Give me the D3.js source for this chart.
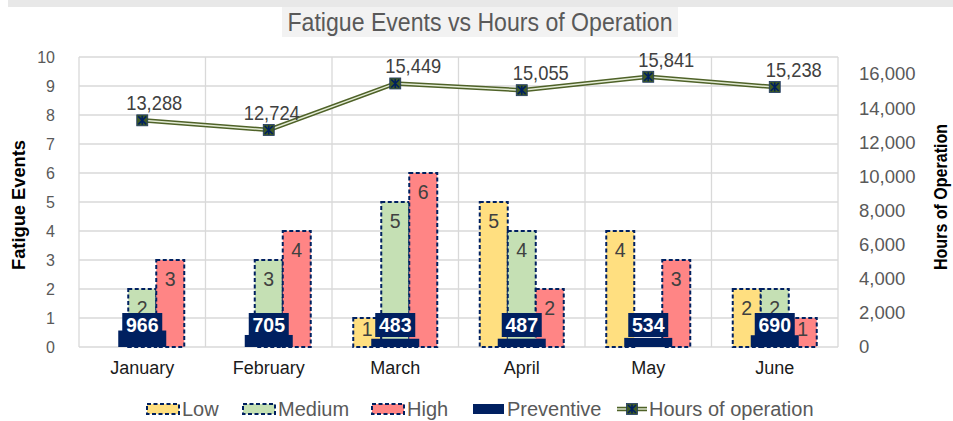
<!DOCTYPE html>
<html>
<head>
<meta charset="utf-8">
<script src="https://cdn.jsdelivr.net/npm/d3@7/dist/d3.min.js"></script>
<style>
  html, body { margin: 0; padding: 0; background: #ffffff; }
  svg { display: block; font-family: "Liberation Sans", Arial, sans-serif; }
</style>
</head>
<body>
<svg id="chart" width="953" height="421"></svg>
<script>
// ---------- data ----------
const months = ["January", "February", "March", "April", "May", "June"];
const lowEvents = [0, 0, 1, 5, 4, 2];
const mediumEvents = [2, 3, 5, 4, 0, 2];
const highEvents = [3, 4, 6, 2, 3, 1];
const preventive = [966, 705, 483, 487, 534, 690];
const hoursOfOperation = [13288, 12724, 15449, 15055, 15841, 15238];
const leftTicks = [0, 1, 2, 3, 4, 5, 6, 7, 8, 9, 10];
const rightTicks = [0, 2000, 4000, 6000, 8000, 10000, 12000, 14000, 16000];
const seriesNames = ["Low", "Medium", "High"];
const legendNames = ["Low", "Medium", "High", "Preventive", "Hours of operation"];

// ---------- styles / layout ----------
const W = 953, H = 421;
const plot = { left: 79, right: 838, top: 57, bottom: 347 };
const colors = { Low: "#ffdf80", Medium: "#c5e0b4", High: "#ff8585" };
const navy = "#002060";
const lineGreen = "#4f6228";
const labelNudge = [12, 3, 18, 19, 18, 19];

const svg = d3.select("#chart");
svg.append("rect").attr("width", W).attr("height", H).attr("fill", "#fff");

// top band + title
svg.append("rect").attr("x", 8).attr("y", 0).attr("width", W - 8).attr("height", 7).attr("fill", "#e8e8e8");
svg.append("rect").attr("x", 282).attr("y", 7).attr("width", 396).attr("height", 30).attr("fill", "#f2f2f2");
svg.append("text").attr("x", 480).attr("y", 31).attr("text-anchor", "middle")
  .attr("font-size", 25).attr("fill", "#595959")
  .attr("textLength", 385).attr("lengthAdjust", "spacingAndGlyphs")
  .text("Fatigue Events vs Hours of Operation");

// scales
const x = d3.scaleBand().domain(months).range([plot.left, plot.right]).padding(0);
const yL = d3.scaleLinear().domain([0, 10]).range([plot.bottom, plot.top]);
const yR = d3.scaleLinear().domain([0, 17000]).range([plot.bottom, plot.top]);
const barW = 28;
const xs = d3.scaleBand().domain(seriesNames).range([-1.5 * barW, 1.5 * barW]).padding(0);

// gridlines
const grid = svg.append("g");
grid.selectAll("line.h").data(leftTicks).join("line")
  .attr("x1", plot.left).attr("x2", plot.right)
  .attr("y1", d => yL(d)).attr("y2", d => yL(d))
  .attr("stroke", "#d9d9d9").attr("stroke-width", 1.3);
const bounds = months.map(m => x(m)).concat([plot.right]);
grid.selectAll("line.v").data(bounds).join("line")
  .attr("x1", d => d).attr("x2", d => d)
  .attr("y1", plot.top).attr("y2", plot.bottom)
  .attr("stroke", "#d9d9d9").attr("stroke-width", 1.3);

// axes
const axL = svg.append("g").attr("transform", `translate(${plot.left},0)`)
  .call(d3.axisLeft(yL).tickValues(leftTicks).tickSize(0).tickPadding(24));
axL.select(".domain").remove();
axL.selectAll("text").attr("font-size", 16).attr("fill", "#595959").attr("font-family", "Liberation Sans, Arial");

const axR = svg.append("g").attr("transform", `translate(${plot.right},0)`)
  .call(d3.axisRight(yR).tickValues(rightTicks).tickSize(0).tickPadding(21).tickFormat(d3.format(",")));
axR.select(".domain").remove();
axR.selectAll("text").attr("font-size", 18.5).attr("fill", "#595959").attr("font-family", "Liberation Sans, Arial");

const axB = svg.append("g").attr("transform", `translate(0,${plot.bottom})`)
  .call(d3.axisBottom(x).tickSize(0).tickPadding(14));
axB.select(".domain").remove();
axB.selectAll("text").attr("font-size", 18).attr("fill", "#1a1a1a").attr("font-family", "Liberation Sans, Arial");

// axis titles
svg.append("text").attr("transform", `translate(25,${205}) rotate(-90)`)
  .attr("text-anchor", "middle").attr("font-size", 18).attr("font-weight", "bold").attr("fill", "#000")
  .attr("textLength", 130).attr("lengthAdjust", "spacingAndGlyphs")
  .text("Fatigue Events");
svg.append("text").attr("transform", `translate(947,${197}) rotate(-90)`)
  .attr("text-anchor", "middle").attr("font-size", 18).attr("font-weight", "bold").attr("fill", "#000")
  .attr("textLength", 146).attr("lengthAdjust", "spacingAndGlyphs")
  .text("Hours of Operation");

// event bars
const seriesData = { Low: lowEvents, Medium: mediumEvents, High: highEvents };
const barRows = [];
seriesNames.forEach(s => months.forEach((m, i) => {
  if (seriesData[s][i] > 0) barRows.push({ s, m, v: seriesData[s][i] });
}));
const cx = m => x(m) + x.bandwidth() / 2;
const bars = svg.append("g");
bars.selectAll("rect").data(barRows).join("rect")
  .attr("x", d => cx(d.m) + xs(d.s))
  .attr("y", d => yL(d.v))
  .attr("width", xs.bandwidth())
  .attr("height", d => yL(0) - yL(d.v))
  .attr("fill", d => colors[d.s])
  .attr("stroke", navy).attr("stroke-width", 2).attr("stroke-dasharray", "4,2.5");
bars.selectAll("text").data(barRows).join("text")
  .attr("x", d => cx(d.m) + xs(d.s) + xs.bandwidth() / 2)
  .attr("y", d => Math.min(yL(d.v) + 26, yL(0) - 11))
  .attr("text-anchor", "middle").attr("font-size", 19.5).attr("fill", "#404040")
  .text(d => d.v);

// preventive bars (secondary axis)
const prevW = 48;
const prevRows = months.map((m, i) => ({ m, v: preventive[i] }));
const prev = svg.append("g");
prev.selectAll("rect.bar").data(prevRows).join("rect").attr("class", "bar")
  .attr("x", d => cx(d.m) - prevW / 2).attr("y", d => yR(d.v))
  .attr("width", prevW).attr("height", d => yR(0) - yR(d.v))
  .attr("fill", navy);
prev.selectAll("rect.lbl").data(prevRows).join("rect").attr("class", "lbl")
  .attr("x", d => cx(d.m) - 20).attr("y", yR(0) - 34)
  .attr("width", 40).attr("height", 24).attr("fill", navy);
prev.selectAll("text").data(prevRows).join("text")
  .attr("x", d => cx(d.m)).attr("y", yR(0) - 15)
  .attr("text-anchor", "middle").attr("font-size", 19.5).attr("font-weight", "bold").attr("fill", "#fff")
  .text(d => d.v);

// hours line
const linePts = months.map((m, i) => ({ m, v: hoursOfOperation[i], i }));
const lineGen = d3.line().x(d => cx(d.m)).y(d => yR(d.v));
svg.append("path").datum(linePts).attr("d", lineGen)
  .attr("fill", "none").attr("stroke", lineGreen).attr("stroke-width", 4.5);
svg.append("path").datum(linePts).attr("d", lineGen)
  .attr("fill", "none").attr("stroke", "#e4ecd6").attr("stroke-width", 1.4);

function marker(g, px, py) {
  const s = 5.5;
  g.append("rect").attr("x", px - s).attr("y", py - s).attr("width", 2 * s).attr("height", 2 * s)
    .attr("fill", "#3e5a24").attr("stroke", "#1f3864").attr("stroke-width", 0.8);
  g.append("path")
    .attr("d", `M${px - s + 1.5},${py - s + 1.5}L${px + s - 1.5},${py + s - 1.5}M${px + s - 1.5},${py - s + 1.5}L${px - s + 1.5},${py + s - 1.5}M${px},${py - s + 1}L${px},${py + s - 1}`)
    .attr("stroke", navy).attr("stroke-width", 1.6);
}
const mk = svg.append("g");
linePts.forEach(d => marker(mk, cx(d.m), yR(d.v)));
svg.append("g").selectAll("text").data(linePts).join("text")
  .attr("x", d => cx(d.m) + labelNudge[d.i]).attr("y", d => yR(d.v) - 10)
  .attr("text-anchor", "middle").attr("font-size", 21).attr("fill", "#404040")
  .attr("textLength", 56).attr("lengthAdjust", "spacingAndGlyphs")
  .text(d => d3.format(",")(d.v));

// legend
const legX = [146, 242, 371, 473, 617];
const legY = 409;
const leg = svg.append("g");
legendNames.forEach((name, i) => {
  const lx = legX[i];
  if (i < 3) {
    leg.append("rect").attr("x", lx + 1).attr("y", legY - 5).attr("width", 32).attr("height", 10)
      .attr("fill", colors[name]).attr("stroke", navy).attr("stroke-width", 2).attr("stroke-dasharray", "4,2.5");
  } else if (i === 3) {
    leg.append("rect").attr("x", lx).attr("y", legY - 5).attr("width", 31).attr("height", 10).attr("fill", navy);
  } else {
    leg.append("line").attr("x1", lx).attr("x2", lx + 30).attr("y1", legY).attr("y2", legY)
      .attr("stroke", lineGreen).attr("stroke-width", 4.5);
    leg.append("line").attr("x1", lx).attr("x2", lx + 30).attr("y1", legY).attr("y2", legY)
      .attr("stroke", "#e4ecd6").attr("stroke-width", 1.4);
    marker(leg, lx + 15, legY);
  }
  leg.append("text").attr("x", lx + (i < 3 ? 36 : (i === 3 ? 34 : 32))).attr("y", legY + 7)
    .attr("font-size", 20).attr("fill", "#595959").text(name);
});
</script>
</body>
</html>
